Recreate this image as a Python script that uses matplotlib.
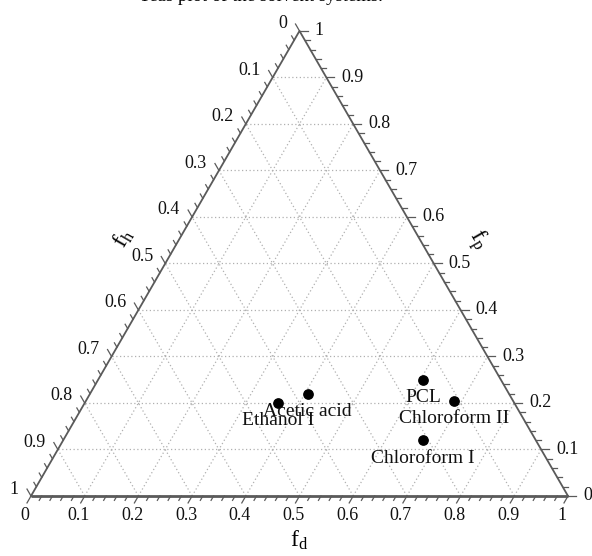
import numpy as np
import matplotlib
matplotlib.use('Agg')
from matplotlib import pyplot as plt

plt.rcParams['font.family'] = ['Liberation Serif', 'DejaVu Serif']
plt.rcParams['mathtext.fontset'] = 'custom'
plt.rcParams['mathtext.rm'] = 'Liberation Serif'

# Teas fractional parameters of the solvents and the polymer
solvents = ['Ethanol I', 'Acetic acid', 'PCL', 'Chloroform II', 'Chloroform I']
fd = np.array([0.36, 0.405, 0.605, 0.685, 0.67])
fp = np.array([0.20, 0.22, 0.25, 0.205, 0.12])
fh = 1 - fd - fp

major_ticks = [0.0, 0.1, 0.2, 0.3, 0.4, 0.5, 0.6, 0.7, 0.8, 0.9, 1.0]
tick_labels = ['0', '0.1', '0.2', '0.3', '0.4', '0.5', '0.6', '0.7', '0.8', '0.9', '1']

SQ = np.sqrt(3) / 2
W, H = 592, 556          # figure size in pixels
X0, Y0, SCALE = 31, 60, 537   # bottom-left corner (px from left/bottom), edge length px


def tern(d, p):
    """(fd, fp) -> cartesian coordinates of the triangle"""
    d = np.asarray(d, dtype=float)
    p = np.asarray(p, dtype=float)
    return d + p / 2, p * SQ


fig = plt.figure(figsize=(W / 100, H / 100), dpi=100)
ax = fig.add_axes([0, 0, 1, 1])
ax.set_xlim(-X0 / SCALE, (W - X0) / SCALE)
ax.set_ylim(-Y0 / SCALE, (H - Y0) / SCALE)
ax.axis('off')

# dotted grid
grid_kw = dict(color='#b0b0b0', lw=0.9, ls=(0, (1, 2)), zorder=1)
for v in major_ticks[1:-1]:
    x, y = tern([0, 1 - v], [v, v])
    ax.plot(x, y, **grid_kw)
    x, y = tern([v, v], [0, 1 - v])
    ax.plot(x, y, **grid_kw)
    x, y = tern([1 - v, 0], [0, 1 - v])
    ax.plot(x, y, **grid_kw)

# triangle edges
edge = '#5a5a5a'
ax.plot([0, 1], [0, 0], color=edge, lw=2.0, zorder=2, solid_capstyle='butt')
ax.plot([0, 0.5, 1], [0, SQ, 0], color=edge, lw=1.3, zorder=2)

# ticks: fd on bottom, fp on right, fh on left
minor = np.round(np.arange(0, 1.0001, 0.02), 2)
dirs = {'d': (-0.5, -SQ), 'p': (1.0, 0.0), 'h': (-0.5, SQ)}


def edge_point(axis, t):
    if axis == 'd':
        return tern(t, 0)
    if axis == 'p':
        return tern(1 - t, t)
    return tern(0, 1 - t)


for axis in 'dph':
    ux, uy = dirs[axis]
    for t in minor:
        is_major = abs(t * 10 - round(t * 10)) < 1e-6
        length = (8 if is_major else 5) / SCALE
        x, y = edge_point(axis, t)
        ax.plot([x, x + ux * length], [y, y + uy * length], color=edge, lw=0.9, zorder=2)

label_kw = dict(textcoords='offset pixels', fontsize=13, color='#111111')
for t, lbl in zip(major_ticks, tick_labels):
    ax.annotate(lbl, edge_point('d', t), xytext=(-6, -20), ha='center', va='center', **label_kw)
    ax.annotate(lbl, edge_point('p', t), xytext=(15, 0), ha='left', va='center', **label_kw)
    ax.annotate(lbl, edge_point('h', t), xytext=(-12, 7), ha='right', va='center', **label_kw)

# axis titles
ax.text(0.5, (496 - 540) / SCALE, r'$\mathrm{f_d}$', fontsize=17, ha='center', va='center')
ax.text((123 - X0) / SCALE, (496 - 238) / SCALE, r'$\mathrm{f_h}$', fontsize=17,
        rotation=60, ha='center', va='center')
ax.text((477 - X0) / SCALE, (496 - 240) / SCALE, r'$\mathrm{f_p}$', fontsize=17,
        rotation=-60, ha='center', va='center')

# solvents
px, py = tern(fd, fp)
ax.scatter(px, py, s=45, color='black', zorder=4)
for name, x, y in zip(solvents, px, py):
    ax.annotate(name, (x, y), xytext=(0, -18), textcoords='offset pixels',
                ha='center', va='center', fontsize=14, color='#111111', zorder=5)

# caption running off the top
fig.text(261 / W, 1 - 1 / H, 'Teas plot of the solvent systems.', fontsize=13.5,
         ha='center', va='baseline')

fig.savefig('out.png', dpi=100)
